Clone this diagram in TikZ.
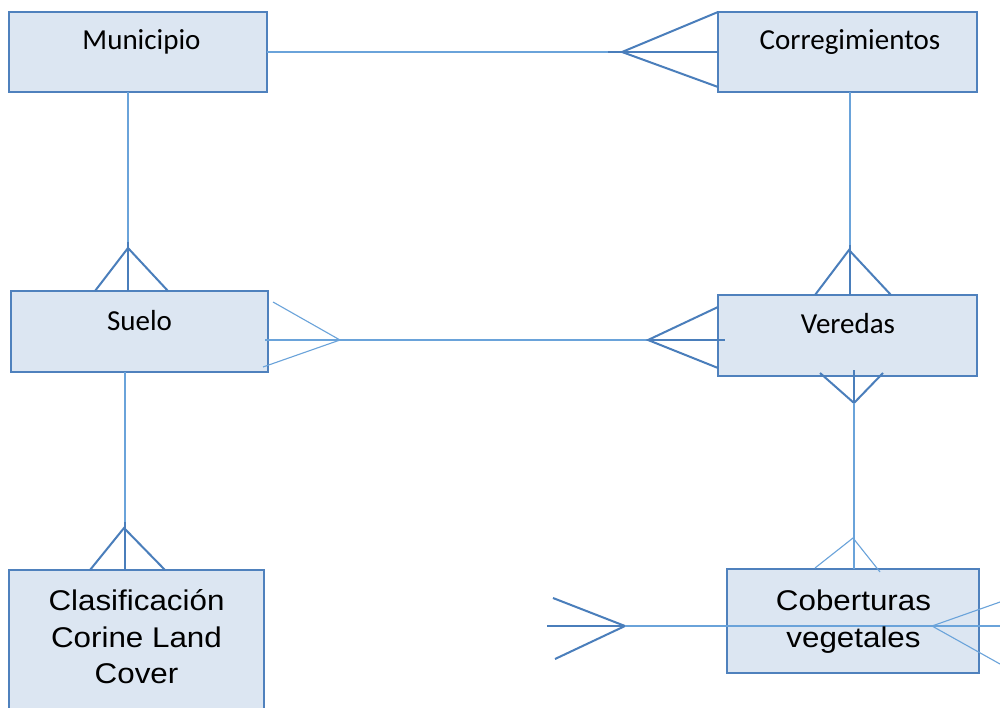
\documentclass[tikz,border=0pt]{standalone}
\usepackage{fontspec}
\setmainfont{Liberation Sans}
\newfontfamily\calfont{Carlito}
\newfontfamily\arfont[FakeStretch=1.1]{Liberation Sans}
\usetikzlibrary{calc}
\definecolor{boxfill}{HTML}{DCE6F2}
\definecolor{boxline}{HTML}{4F81BD}
\definecolor{lineblue}{HTML}{6AA3DA}
\definecolor{footblue}{HTML}{4A7EBB}
\tikzset{
  entity/.style={draw=boxline, fill=boxfill, line width=2pt, inner sep=0pt, outer sep=0pt},
  smalltxt/.style={font=\calfont\fontsize{29}{34}\selectfont, inner sep=0pt, anchor=base, text=black},
  bigtxt/.style={font=\arfont\fontsize{28.5}{36}\selectfont, inner sep=0pt, anchor=base, text=black},
  conn/.style={draw=lineblue, line width=1.1pt},
  foot/.style={draw=footblue, line width=2pt},
  thinfoot/.style={draw=lineblue, line width=1.1pt},
}
\begin{document}
\begin{tikzpicture}[x=1pt,y=-1pt]
\clip (0,0) rectangle (1000,708);
\fill[white] (0,0) rectangle (1000,708);
% entities
\node[entity, minimum width=258pt, minimum height=80pt] (mun) at (138,52) {};
\node[entity, minimum width=259pt, minimum height=80pt] (cor) at (847.5,52) {};
\node[entity, minimum width=257pt, minimum height=81pt] (sue) at (139.5,331.5) {};
\node[entity, minimum width=259pt, minimum height=81pt] (ver) at (847.5,335.5) {};
\node[entity, minimum width=255pt, minimum height=150pt] (cla) at (136.5,645) {};
\node[entity, minimum width=252pt, minimum height=104pt] (cob) at (853,621) {};
% Municipio - Corregimientos
\coordinate (mcA) at (622,52);
\coordinate (mcB) at (608,52);
\draw[conn] (mun.east) -- (mcB);
\draw[foot] (mcB) -- (cor.west);
\draw[foot] (cor.north west) -- (mcA) -- ([yshift=5pt]cor.south west);
% Municipio - Suelo
\coordinate (msA) at (128,248);
\coordinate (msB) at (128,242);
\draw[conn] (mun.south -| msA) -- (msB);
\draw[foot] (msB) -- (sue.north -| msA);
\draw[foot] ([xshift=-44.5pt]sue.north) -- (msA) -- ([xshift=28.5pt]sue.north);
% Corregimientos - Veredas
\coordinate (cvA) at (849,250);
\coordinate (cvB) at (850,245);
\draw[conn] (cor.south -| cvB) -- (cvB);
\draw[foot] (cvB) -- (ver.north -| cvB);
\draw[foot] ([xshift=-32.5pt]ver.north) -- (cvA) -- ([xshift=43.5pt]ver.north);
% Suelo - Veredas
\coordinate (svA) at (340,340);
\coordinate (svB) at (648,340);
\draw[conn] ($(sue.east |- svA)+(-3,0)$) -- (svB);
\draw[thinfoot] (273,302) -- (svA) -- (263,367);
\draw[foot] (svB) -- ($(ver.west |- svA)+(7,0)$);
\draw[foot] (718,307) -- (svB) -- (718,368);
% Veredas - Coberturas
\coordinate (vcA) at (854,403);
\coordinate (vcC) at (853,538);
\draw[foot] (820,373) -- (vcA) -- (883,373);
\draw[foot] ($(ver.south -| vcA)+(0,-6)$) -- (vcA);
\draw[conn] (vcA) -- (cob.north -| vcA);
\draw[thinfoot] (815,568) -- (vcC) -- (880,572);
% Suelo - Clasificacion
\coordinate (scA) at (124,528);
\coordinate (scB) at (125,522);
\draw[conn] (sue.south -| scB) -- (scB);
\draw[foot] (scB) -- (cla.north -| scB);
\draw[foot] (90,570) -- (scA) -- (165,570);
% stray connector through Coberturas
\coordinate (xA) at (625,626);
\coordinate (xL) at (547,626);
\coordinate (xR) at (1010,626);
\coordinate (xB) at (932,626);
\draw[foot] (xL) -- (xA);
\draw[foot] (553,598) -- (xA) -- (555,659);
\draw[conn] (xA) -- (xR);
\draw[thinfoot] (1010,598.5) -- (xB) -- (1010,669.6);
% texts
\node[smalltxt] (munT) at (141.5,50) {Municipio};
\node[smalltxt] (corT) at (850,50) {Corregimientos};
\node[smalltxt] (sueT) at (139.5,330) {Suelo};
\node[smalltxt] (verT) at (848,333) {Veredas};
\node[bigtxt] (claT1) at (136.5,610) {Clasificación};
\node[bigtxt] (claT2) at (136.5,647) {Corine Land};
\node[bigtxt] (claT3) at (136.5,683) {Cover};
\node[bigtxt] (cobT1) at (853.5,610) {Coberturas};
\node[bigtxt] (cobT2) at (853.5,647) {vegetales};
\end{tikzpicture}
\end{document}
